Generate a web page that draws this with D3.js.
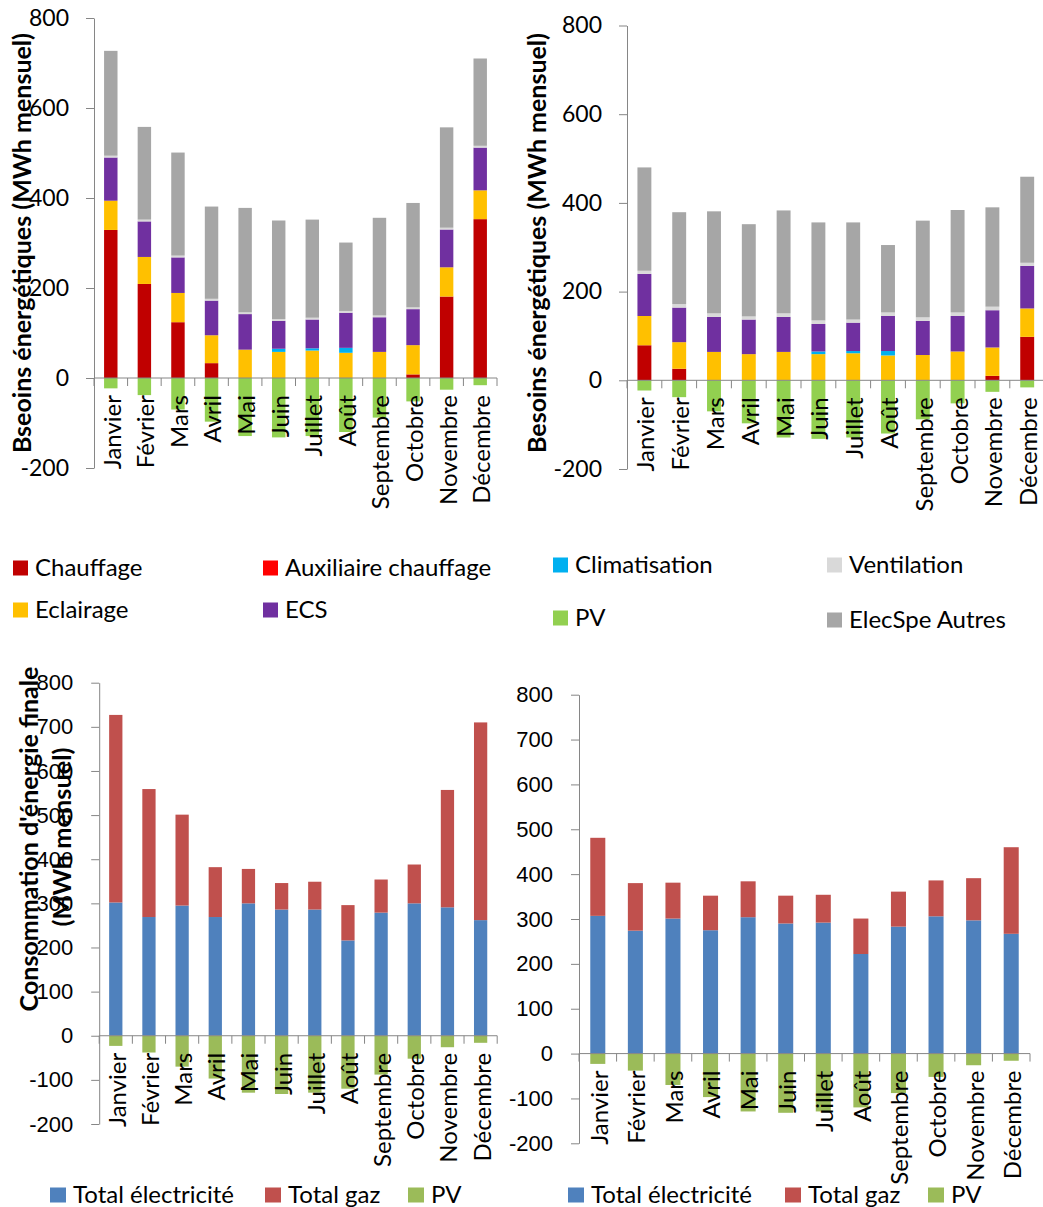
<!DOCTYPE html>
<html><head><meta charset="utf-8">
<script src="https://cdn.jsdelivr.net/npm/d3@7"></script>
<style>html,body{margin:0;padding:0;background:#fff;}svg{display:block;}</style>
</head><body>
<svg id="chart" width="1043" height="1207"></svg>
<script>
// ---------- DATA ----------
const months = ["Janvier","Février","Mars","Avril","Mai","Juin","Juillet","Août","Septembre","Octobre","Novembre","Décembre"];

// Top-left chart (Bseoins énergétiques)
const tlChauffage = [329,209,124,33,0,0,0,0,0,8,181,353];
const tlAuxChauffage = [0,0,0,0,0,0,0,0,0,0,0,0];
const tlEclairage = [65,60,65,62,63,58,61,56,58,65,65,64];
const tlClimatisation = [0,0,0,0,0,7,5,11,0,0,0,0];
const tlECS = [96,79,79,77,79,62,64,78,77,80,84,95];
const tlVentilation = [4,4,4,4,4,4,4,4,4,4,4,4];
const tlElecSpe = [233,206,229,205,232,219,218,152,217,232,223,194];

// Top-right chart (Besoins énergétiques)
const trChauffage = [79,26,0,0,0,0,0,0,0,0,10,98];
const trAuxChauffage = [0,0,0,0,0,0,0,0,0,0,0,0];
const trEclairage = [66,60,64,59,64,59,61,56,57,65,64,64];
const trClimatisation = [0,0,0,0,0,6,5,10,0,0,0,0];
const trECS = [95,78,79,78,79,62,64,79,77,80,84,96];
const trVentilation = [7,8,8,7,8,8,7,8,8,8,8,7];
const trElecSpe = [233,207,230,208,232,221,219,152,218,231,224,194];

// PV production (negative)
const pv = [-23,-38,-70,-97,-129,-132,-129,-120,-88,-52,-26,-16];

// Bottom-left chart (Consommation d'énergie finale)
const blElec = [302,269,295,269,300,286,286,216,279,300,291,262];
const blGaz = [425,290,206,113,78,60,63,80,75,88,266,448];

// Bottom-right chart
const brElec = [307,274,301,275,304,290,292,222,283,306,297,267];
const brGaz = [174,106,80,77,80,62,62,79,78,80,94,193];

const topTicks = [-200,0,200,400,600,800];
const bottomTicks = [-200,-100,0,100,200,300,400,500,600,700,800];

const topLegend = ["Chauffage","Auxiliaire chauffage","Climatisation","Ventilation","Eclairage","ECS","PV","ElecSpe Autres"];
const bottomLegend = ["Total électricité","Total gaz","PV"];

// ---------- STYLE ----------
const C = {
  "Chauffage":"#C00000","Auxiliaire chauffage":"#FF0000","Climatisation":"#00B0F0",
  "Ventilation":"#D9D9D9","Eclairage":"#FFC000","ECS":"#7030A0","PV":"#92D050",
  "ElecSpe Autres":"#A6A6A6","Total électricité":"#4F81BD","Total gaz":"#C0504D","PVb":"#9BBB59"
};
const AXIS = "#868686";
const CAL = "Lato, 'Open Sans', sans-serif";
const ARIAL = "'Liberation Sans', Arial, sans-serif";

const svg = d3.select("#chart");
svg.append("rect").attr("width",1043).attr("height",1207).attr("fill","#fff");

function drawChart(cfg){
  const g = svg.append("g");
  const x = d3.scaleBand().domain(months).range([cfg.x0, cfg.x1]).paddingInner(0.6).paddingOuter(0.3);
  const y = d3.scaleLinear().domain([-200,800]).range([cfg.yBottom, cfg.yTop]);
  const rows = months.map((m,i)=>{const r={month:m}; cfg.series.forEach(s=>r[s.name]=s.values[i]); return r;});
  const stack = d3.stack().keys(cfg.series.map(s=>s.name))(rows);
  stack.forEach((layer,k)=>{
    g.append("g").attr("fill", cfg.series[k].color)
      .selectAll("rect").data(layer).join("rect")
      .attr("x", d=>x(d.data.month)).attr("width", x.bandwidth())
      .attr("y", d=>y(d[1])).attr("height", d=>Math.max(0, y(d[0])-y(d[1])));
  });
  // PV negative bars
  g.append("g").attr("fill", cfg.pvColor).selectAll("rect").data(cfg.pv).join("rect")
    .attr("x",(d,i)=>x(months[i])).attr("width",x.bandwidth())
    .attr("y", y(0)).attr("height", d=>y(d)-y(0));

  // Y axis
  const ya = d3.axisLeft(y).tickValues(cfg.ticks).tickFormat(d=>String(d))
    .tickSize(8).tickSizeOuter(0).tickPadding(cfg.tickPad);
  const yg = g.append("g").attr("transform",`translate(${cfg.x0},0)`).call(ya);
  yg.select(".domain").attr("stroke",AXIS);
  yg.selectAll(".tick line").attr("stroke",AXIS);
  yg.selectAll(".tick text").attr("font-family",cfg.tickFont).attr("font-size",cfg.tickSize).attr("fill","#000");

  // X axis line with boundary ticks
  const y0 = y(0);
  const step = x.step();
  g.append("line").attr("x1",cfg.x0).attr("x2",cfg.x1).attr("y1",y0).attr("y2",y0).attr("stroke",AXIS);
  g.append("g").selectAll("line").data(d3.range(months.length+1)).join("line")
    .attr("x1",i=>cfg.x0+i*step).attr("x2",i=>cfg.x0+i*step)
    .attr("y1",y0).attr("y2",y0+8).attr("stroke",AXIS);
  // Month labels
  g.append("g").selectAll("text").data(months).join("text")
    .attr("transform",m=>`translate(${x(m)+x.bandwidth()/2+1.5},${y0+17}) rotate(-90)`)
    .attr("text-anchor","end").attr("dy","0.35em")
    .attr("font-family",CAL).attr("font-size",24).attr("fill","#000").text(m=>m);

  // Titles
  (cfg.titles||[]).forEach(t=>{
    const tx = g.append("text").attr("transform",`translate(${t.x},${t.y}) rotate(-90)`)
      .attr("text-anchor","middle").attr("dy","0.35em")
      .attr("font-family",CAL).attr("font-weight","bold").attr("font-size",22).attr("fill","#000").text(t.text);
    const len = tx.node().getComputedTextLength();
    if(len>0) tx.attr("font-size", 22*t.len/len);
  });
}

const topSeries = (ch,aux,ecl,clim,ecs,vent,elec)=>[
  {name:"Chauffage",values:ch,color:C["Chauffage"]},
  {name:"Auxiliaire chauffage",values:aux,color:C["Auxiliaire chauffage"]},
  {name:"Eclairage",values:ecl,color:C["Eclairage"]},
  {name:"Climatisation",values:clim,color:C["Climatisation"]},
  {name:"ECS",values:ecs,color:C["ECS"]},
  {name:"Ventilation",values:vent,color:C["Ventilation"]},
  {name:"ElecSpe Autres",values:elec,color:C["ElecSpe Autres"]}
];

drawChart({x0:94,x1:497,yTop:18,yBottom:468,ticks:topTicks,tickFont:CAL,tickSize:23,tickPad:17,
  series:topSeries(tlChauffage,tlAuxChauffage,tlEclairage,tlClimatisation,tlECS,tlVentilation,tlElecSpe),
  pv:pv,pvColor:C["PV"],
  titles:[{text:"Bseoins énergétiques (MWh mensuel)",x:22,y:243,len:420}]});

drawChart({x0:627,x1:1044.6,yTop:25.5,yBottom:469,ticks:topTicks,tickFont:CAL,tickSize:23,tickPad:17,
  series:topSeries(trChauffage,trAuxChauffage,trEclairage,trClimatisation,trECS,trVentilation,trElecSpe),
  pv:pv,pvColor:C["PV"],
  titles:[{text:"Besoins énergétiques (MWh mensuel)",x:537,y:243,len:420}]});

drawChart({x0:99.2,x1:497.2,yTop:682.7,yBottom:1124,ticks:bottomTicks,tickFont:ARIAL,tickSize:22,tickPad:18,
  series:[{name:"Total électricité",values:blElec,color:C["Total électricité"]},{name:"Total gaz",values:blGaz,color:C["Total gaz"]}],
  pv:pv,pvColor:C["PVb"],
  titles:[{text:"Consommation d'énergie finale",x:29,y:839,len:345},{text:"(MWh mensuel)",x:62,y:837,len:179}]});

drawChart({x0:579,x1:1030,yTop:694.7,yBottom:1143.3,ticks:bottomTicks,tickFont:ARIAL,tickSize:22,tickPad:18,
  series:[{name:"Total électricité",values:brElec,color:C["Total électricité"]},{name:"Total gaz",values:brGaz,color:C["Total gaz"]}],
  pv:pv,pvColor:C["PVb"]});

// ---------- LEGENDS ----------
const topLegendPos = [[13,568],[263,568],[553,565],[827,565],[13,610],[263,610],[553,618],[827,620]];
const tl = svg.append("g");
topLegend.forEach((name,i)=>{
  const [lx,ly]=topLegendPos[i];
  tl.append("rect").attr("x",lx).attr("y",ly-7.5).attr("width",15).attr("height",15).attr("fill",C[name]);
  tl.append("text").attr("x",lx+22).attr("y",ly).attr("dy","0.35em").attr("font-family",CAL).attr("font-size",24).attr("fill","#000").text(name);
});
function bottomLeg(pos){
  const g = svg.append("g");
  bottomLegend.forEach((name,i)=>{
    const [lx,ly]=pos[i];
    const col = name==="PV"?C["PVb"]:C[name];
    g.append("rect").attr("x",lx).attr("y",ly-7.5).attr("width",16).attr("height",15).attr("fill",col);
    g.append("text").attr("x",lx+23).attr("y",ly).attr("dy","0.35em").attr("font-family",CAL).attr("font-size",24).attr("fill","#000").text(name);
  });
}
bottomLeg([[50,1195],[265,1195],[408,1195]]);
bottomLeg([[568,1195],[785,1195],[928,1195]]);
</script>
</body></html>
